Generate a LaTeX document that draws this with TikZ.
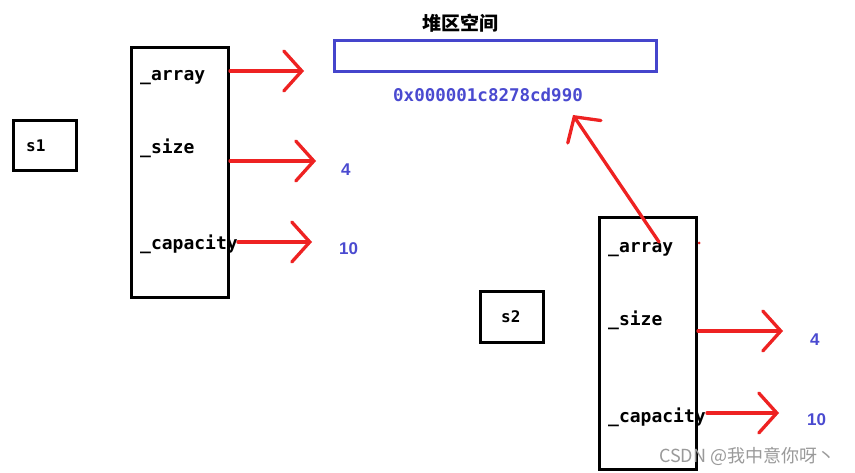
\documentclass[tikz,border=0pt]{standalone}
\usepackage{fontspec}
\usetikzlibrary{arrows.meta}
\newfontfamily\cjkfont{Noto Sans CJK SC}
\newfontfamily\monofont{DejaVu Sans Mono}
\newfontfamily\valfont{Liberation Sans}
\definecolor{redline}{HTML}{EE2222}
\definecolor{heapblue}{HTML}{4545CC}
\definecolor{textblue}{HTML}{4A4AD0}
\definecolor{wmgray}{HTML}{9A9A9A}
\tikzset{
  blackbox/.style={draw=black, line width=3pt, inner sep=0pt, fill=white},
  field/.style={anchor=base west, inner sep=0pt, font=\monofont\bfseries\fontsize{18}{18}\selectfont},
  objname/.style={anchor=base west, inner sep=0pt, font=\monofont\bfseries\fontsize{16}{16}\selectfont},
  value/.style={anchor=base west, inner sep=0pt, text=textblue, font=\valfont\bfseries\fontsize{17}{17}\selectfont},
  ptr/.style={draw=redline, line width=3.3pt, line cap=round,
    -{Straight Barb[length=18pt, width=40pt, line cap=round]}},
}
\begin{document}
\begin{tikzpicture}[x=1pt, y=-1pt]
\useasboundingbox (0,0) rectangle (855,473);
\fill[white] (0,0) rectangle (855,473);

% s1 side
\node[blackbox, minimum width=62.5pt, minimum height=50.5pt] (s1box) at (44.75,145.75) {};
\node[objname] (s1) at (26,152) {s1};
\node[blackbox, minimum width=97pt, minimum height=250.5pt] (st1) at (180,172.75) {};
\node[field] (a1) at (140,81) {\_array};
\node[field] (z1) at (140,154) {\_size};
\node[field] (c1) at (140,250) {\_capacity};

% heap
\node[anchor=base west, inner sep=0pt, font=\cjkfont\bfseries\fontsize{19}{19}\selectfont] (heaptitle) at (422,31) {堆区空间};
\node[draw=heapblue, line width=3pt, minimum width=322pt, minimum height=31pt, inner sep=0pt] (heap) at (495.5,56) {};
\node[anchor=base west, inner sep=0pt, text=textblue, font=\monofont\bfseries\fontsize{17.5}{17.5}\selectfont] (addr) at (393,102) {0x000001c8278cd990};

% values s1
\node[value] (v4a) at (341,176) {4};
\node[value] (v10a) at (339,255) {10};

% s2 side
\node[blackbox, minimum width=63pt, minimum height=51pt] (s2box) at (512,317) {};
\node[objname] (s2) at (501,323) {s2};
\node[blackbox, minimum width=97pt, minimum height=252pt] (st2) at (648,343.5) {};
\node[field] (a2) at (608,253) {\_array};
\node[field] (z2) at (608,326) {\_size};
\node[field] (c2) at (608,422) {\_capacity};

\node[value] (v4b) at (810,346) {4};
\node[value] (v10b) at (807,425) {10};

% arrow endpoints
\coordinate (p1s) at (230,71);  \coordinate (p1e) at (304,71);
\coordinate (q1s) at (230,161); \coordinate (q1e) at (316,161);
\coordinate (r1s) at (238,242); \coordinate (r1e) at (312,242);
\coordinate (p2s) at (659,242); \coordinate (p2e) at (573,115);
\coordinate (q2s) at (698,331); \coordinate (q2e) at (783,331);
\coordinate (r2s) at (707,413); \coordinate (r2e) at (779,413);

\draw[ptr] (p1s) -- (p1e);
\draw[ptr] (q1s) -- (q1e);
\draw[ptr] (r1s) -- (r1e);
\draw[ptr] (p2s) -- (p2e);
\draw[ptr] (q2s) -- (q2e);
\draw[ptr] (r2s) -- (r2e);

\fill[redline] (699,243) circle (1.5pt);

% watermark
\node[anchor=base west, inner sep=0pt, text=wmgray, font=\cjkfont\fontsize{18}{18}\selectfont] (wm) at (659,462) {CSDN @我中意你呀丶};
\end{tikzpicture}
\end{document}
